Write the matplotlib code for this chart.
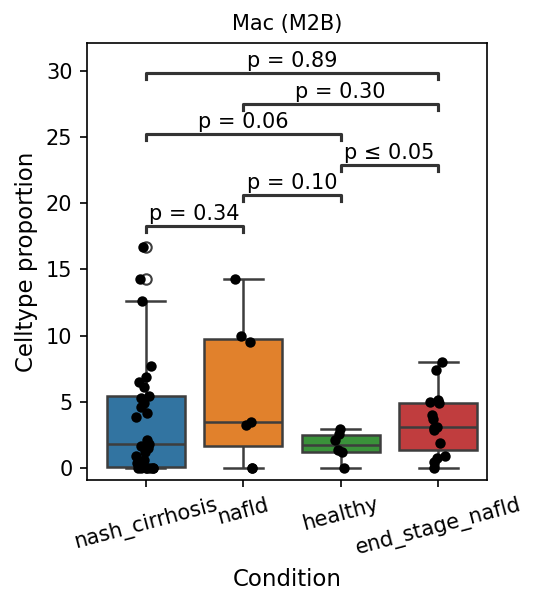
import matplotlib
matplotlib.use("Agg")
import matplotlib.pyplot as plt
import numpy as np
import pandas as pd
import seaborn as sns

# Values
conditions = ["nash_cirrhosis", "nafld", "healthy", "end_stage_nafld"]
nash_cirrhosis = [0, 0, 0, 0, 0, 0, 0, 0.1, 0.4, 0.6, 0.9, 1.2, 1.5, 1.7, 1.8, 2.1,
                  3.9, 4.2, 4.6, 4.9, 5.3, 5.45, 6.1, 6.5, 6.9, 7.7, 12.6, 14.3, 16.7]
nafld = [0, 0, 3.3, 3.5, 9.5, 10.0, 14.3]
healthy = [0, 1.2, 1.4, 2.1, 2.6, 2.95]
end_stage_nafld = [0, 0.5, 0.75, 0.9, 1.9, 2.9, 3.0, 3.1, 3.7, 4.0, 4.9, 5.0, 5.15, 7.4, 8.0]

# pairwise comparisons, their labels and bracket heights
pairs = [("nash_cirrhosis", "nafld"), ("nafld", "healthy"), ("healthy", "end_stage_nafld"),
         ("nash_cirrhosis", "healthy"), ("nafld", "end_stage_nafld"),
         ("nash_cirrhosis", "end_stage_nafld")]
p_labels = ["p = 0.34", "p = 0.10", "p ≤ 0.05", "p = 0.06", "p = 0.30", "p = 0.89"]
bracket_y = [18.3, 20.6, 22.9, 25.2, 27.5, 29.8]

groups = [nash_cirrhosis, nafld, healthy, end_stage_nafld]
df = pd.DataFrame({
    "Condition": [c for c, g in zip(conditions, groups) for _ in g],
    "value": [v for g in groups for v in g],
})

fig = plt.figure(figsize=(537 / 150, 604 / 150), dpi=150)
ax = fig.add_axes([0.162, 0.205, 0.745, 0.724])

sns.boxplot(data=df, x="Condition", y="value", hue="Condition", order=conditions,
            palette=sns.color_palette()[:4], saturation=0.75, width=0.8,
            linewidth=1.2, fliersize=5, legend=False, ax=ax)
np.random.seed(3)  # jitter only
sns.stripplot(data=df, x="Condition", y="value", order=conditions, color="black",
              size=5, jitter=0.1, ax=ax)

pos = {c: i for i, c in enumerate(conditions)}
for (a, b), lab, y in zip(pairs, p_labels, bracket_y):
    x1, x2 = pos[a], pos[b]
    ax.plot([x1, x1, x2, x2], [y - 0.45, y, y, y - 0.45], color="#333333", lw=1.5)
    ax.text((x1 + x2) / 2, y + 0.15, lab, ha="center", va="bottom", fontsize=10)

ax.set_xlim(-0.6, 3.5)
ax.set_ylim(-0.9, 32.1)
ax.set_yticks(range(0, 31, 5))
ax.set_title("Mac (M2B)", fontsize=10)
ax.set_xlabel("Condition", fontsize=11)
ax.set_ylabel("Celltype proportion", fontsize=11)
ax.tick_params(axis="x", labelrotation=15, labelsize=10)
ax.tick_params(axis="y", labelsize=10)

fig.savefig("out.png", dpi=150)
